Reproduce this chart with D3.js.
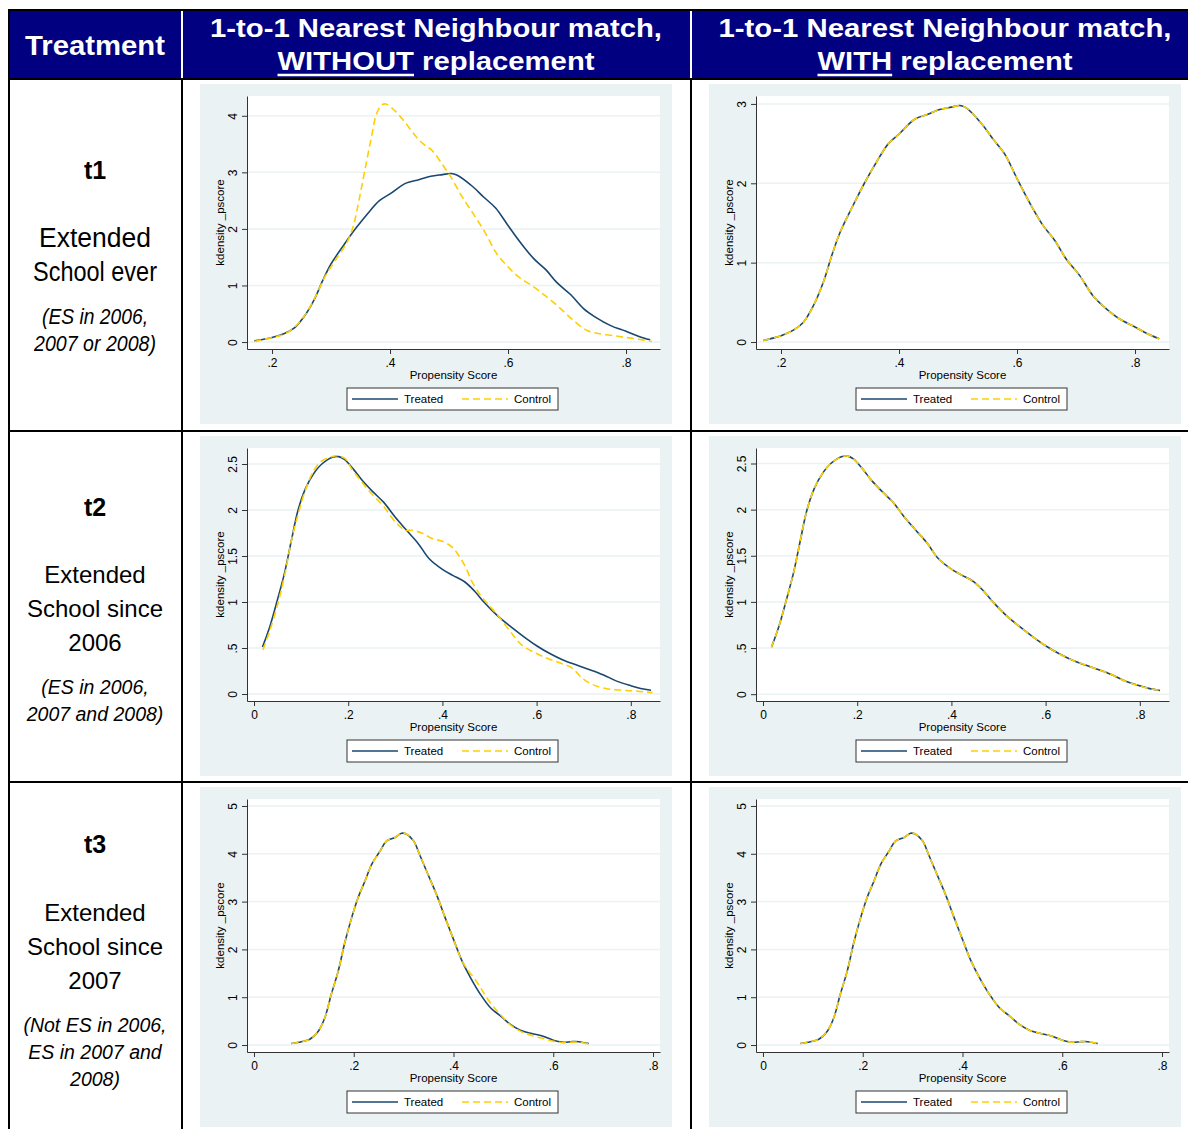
<!DOCTYPE html>
<html>
<head>
<meta charset="utf-8">
<script src="https://cdn.jsdelivr.net/npm/d3@7"></script>
<style>
body { margin: 0; background: #fff; }
svg { display: block; font-family: "Liberation Sans", Arial, sans-serif; }
</style>
</head>
<body>
<svg id="chart" width="1188" height="1129"></svg>
<script>
// ---- data ----
var headerTitles = ["1-to-1 Nearest Neighbour match,", "1-to-1 Nearest Neighbour match,"];
var headerMarked = ["WITHOUT", "WITH"];
var treatmentCodes = ["t1", "t2", "t3"];
var treatmentNames = [["Extended", "School ever"], ["Extended", "School since", "2006"], ["Extended", "School since", "2007"]];
var treatmentNotes = [["(ES in 2006,", "2007 or 2008)"], ["(ES in 2006,", "2007 and 2008)"], ["(Not ES in 2006,", "ES in 2007 and", "2008)"]];
var seriesNames = ["Treated", "Control"];

var xTicks = [[0.2, 0.4, 0.6, 0.8], [0, 0.2, 0.4, 0.6, 0.8], [0, 0.2, 0.4, 0.6, 0.8]];
var yTicksWithout = [[0, 1, 2, 3, 4], [0, 0.5, 1, 1.5, 2, 2.5], [0, 1, 2, 3, 4, 5]];
var yTicksWith = [[0, 1, 2, 3], [0, 0.5, 1, 1.5, 2, 2.5], [0, 1, 2, 3, 4, 5]];
var xDomains = [[0.1576, 0.8576], [-0.0149, 0.862], [-0.014, 0.814]];
var yDomainsWithout = [[-0.123, 4.35], [-0.076, 2.674], [-0.146, 5.146]];
var yDomainsWith = [[-0.088, 3.10], [-0.074, 2.668], [-0.146, 5.146]];

var t1Treated = [[0.170,0.02],[0.2,0.08],[0.221,0.15],[0.238,0.25],[0.255,0.46],[0.272,0.76],[0.286,1.09],[0.300,1.38],[0.322,1.72],[0.342,2.01],[0.362,2.27],[0.382,2.50],[0.4,2.62],[0.427,2.81],[0.449,2.87],[0.469,2.93],[0.489,2.96],[0.503,2.98],[0.514,2.95],[0.540,2.75],[0.559,2.56],[0.579,2.37],[0.6,2.06],[0.621,1.76],[0.644,1.47],[0.664,1.28],[0.683,1.05],[0.706,0.84],[0.728,0.59],[0.748,0.44],[0.774,0.29],[0.8,0.19],[0.822,0.10],[0.841,0.04]];
var t1ControlWithout = [[0.170,0.01],[0.2,0.08],[0.221,0.14],[0.239,0.27],[0.256,0.48],[0.273,0.79],[0.29,1.16],[0.307,1.44],[0.327,1.76],[0.338,2.06],[0.349,2.59],[0.36,3.18],[0.369,3.65],[0.377,4.03],[0.386,4.19],[0.393,4.21],[0.408,4.09],[0.425,3.89],[0.445,3.62],[0.459,3.48],[0.471,3.39],[0.49,3.12],[0.503,2.92],[0.521,2.59],[0.541,2.27],[0.561,1.94],[0.581,1.56],[0.6,1.33],[0.618,1.15],[0.64,1.0],[0.663,0.82],[0.686,0.62],[0.708,0.41],[0.733,0.21],[0.753,0.15],[0.781,0.11],[0.8,0.08],[0.821,0.05],[0.844,0.01]];
var t1ControlWith = t1Treated;

var t2Treated = [[0.018,0.51],[0.034,0.74],[0.05,1.03],[0.065,1.32],[0.079,1.66],[0.093,1.99],[0.109,2.23],[0.126,2.39],[0.144,2.50],[0.168,2.575],[0.18,2.58],[0.192,2.55],[0.21,2.45],[0.23,2.32],[0.252,2.2],[0.276,2.08],[0.3,1.92],[0.322,1.79],[0.348,1.64],[0.372,1.47],[0.4,1.355],[0.422,1.29],[0.447,1.22],[0.468,1.12],[0.488,1.0],[0.515,0.86],[0.543,0.74],[0.571,0.63],[0.6,0.525],[0.628,0.44],[0.656,0.37],[0.685,0.315],[0.713,0.265],[0.741,0.21],[0.77,0.14],[0.8,0.09],[0.821,0.06],[0.843,0.04]];
var t2ControlWithout = [[0.019,0.48],[0.033,0.68],[0.051,0.99],[0.065,1.29],[0.079,1.66],[0.094,1.96],[0.108,2.2],[0.126,2.42],[0.143,2.53],[0.165,2.58],[0.175,2.59],[0.193,2.56],[0.207,2.45],[0.228,2.31],[0.249,2.18],[0.275,2.04],[0.3,1.87],[0.321,1.78],[0.335,1.78],[0.356,1.75],[0.378,1.69],[0.4,1.66],[0.42,1.60],[0.434,1.51],[0.449,1.38],[0.463,1.22],[0.48,1.08],[0.498,0.97],[0.52,0.84],[0.544,0.68],[0.569,0.53],[0.6,0.44],[0.626,0.38],[0.654,0.33],[0.676,0.28],[0.697,0.17],[0.718,0.105],[0.747,0.06],[0.775,0.043],[0.8,0.036],[0.825,0.025],[0.846,0.015]];
var t2ControlWith = t2Treated;

var t3Treated = [[0.075,0.03],[0.095,0.07],[0.112,0.12],[0.129,0.29],[0.142,0.57],[0.155,1.06],[0.169,1.55],[0.182,2.14],[0.196,2.67],[0.209,3.09],[0.223,3.44],[0.236,3.78],[0.253,4.06],[0.266,4.27],[0.283,4.34],[0.296,4.43],[0.306,4.41],[0.32,4.27],[0.333,3.96],[0.35,3.54],[0.367,3.12],[0.383,2.67],[0.4,2.21],[0.417,1.76],[0.434,1.41],[0.454,1.06],[0.474,0.78],[0.494,0.61],[0.514,0.43],[0.534,0.31],[0.557,0.24],[0.578,0.19],[0.6,0.10],[0.618,0.06],[0.638,0.07],[0.651,0.07],[0.671,0.03]];
var t3ControlWithout = [[0.075,0.03],[0.095,0.07],[0.112,0.12],[0.129,0.29],[0.142,0.57],[0.155,1.06],[0.169,1.55],[0.182,2.14],[0.196,2.67],[0.209,3.09],[0.223,3.44],[0.236,3.78],[0.253,4.06],[0.266,4.27],[0.283,4.34],[0.296,4.43],[0.306,4.41],[0.32,4.27],[0.333,3.96],[0.35,3.54],[0.367,3.12],[0.383,2.67],[0.4,2.21],[0.417,1.76],[0.43,1.55],[0.44,1.42],[0.453,1.22],[0.466,1.0],[0.48,0.8],[0.494,0.64],[0.514,0.42],[0.534,0.29],[0.557,0.2],[0.578,0.14],[0.6,0.08],[0.618,0.05],[0.638,0.06],[0.651,0.06],[0.671,0.02]];
var t3ControlWith = t3Treated;

var treatedData = [t1Treated, t2Treated, t3Treated];
var controlWithout = [t1ControlWithout, t2ControlWithout, t3ControlWithout];
var controlWith = [t1ControlWith, t2ControlWith, t3ControlWith];

// ---- layout ----
var svg = d3.select("#chart");
var rowLines = [79, 431, 782];
var colLines = [182, 691];
var navy = "#000080";
var treatedColor = "#1a476f";
var controlColor = "#ffcf00";
var panelBg = "#eaf2f3";

svg.append("rect").attr("width", 1188).attr("height", 1129).attr("fill", "#fff");

// header band
svg.append("rect").attr("x", 9).attr("y", 10).attr("width", 1190).attr("height", 69).attr("fill", navy);

function fitText(sel, w) {
  sel.attr("textLength", w).attr("lengthAdjust", "spacingAndGlyphs");
}

var hdr = svg.append("text").attr("x", 95).attr("y", 55).attr("text-anchor", "middle")
  .attr("fill", "#fff").attr("font-weight", "bold").attr("font-size", 27).text("Treatment");
fitText(hdr, 140);

var headerCenters = [436, 945];
var line1Widths = [452, 453];
var line2Widths = [317, 255];
headerTitles.forEach(function(t, i) {
  var l1 = svg.append("text").attr("x", headerCenters[i]).attr("y", 37).attr("text-anchor", "middle")
    .attr("fill", "#fff").attr("font-weight", "bold").attr("font-size", 26).text(t);
  fitText(l1, line1Widths[i]);
  var l2 = svg.append("text").attr("x", headerCenters[i]).attr("y", 70).attr("text-anchor", "middle")
    .attr("fill", "#fff").attr("font-weight", "bold").attr("font-size", 26)
    .text(headerMarked[i] + " replacement");
  fitText(l2, line2Widths[i]);
  var n = l2.node();
  var x0 = n.getStartPositionOfChar(0).x;
  var x1 = n.getEndPositionOfChar(headerMarked[i].length - 1).x;
  svg.append("line").attr("x1", x0).attr("x2", x1).attr("y1", 75).attr("y2", 75)
    .attr("stroke", "#fff").attr("stroke-width", 2.5);
});

// table rules
var rules = svg.append("g").attr("stroke", "#000").attr("stroke-width", 2);
rules.append("line").attr("x1", 8).attr("x2", 1188).attr("y1", 10).attr("y2", 10);
rules.selectAll("line.row").data(rowLines).join("line").attr("class", "row")
  .attr("x1", 8).attr("x2", 1188).attr("y1", function(d) { return d; }).attr("y2", function(d) { return d; });
rules.append("line").attr("x1", 9).attr("x2", 9).attr("y1", 10).attr("y2", 1129);
rules.selectAll("line.col").data(colLines).join("line").attr("class", "col")
  .attr("x1", function(d) { return d; }).attr("x2", function(d) { return d; })
  .attr("y1", 79).attr("y2", 1129);
svg.selectAll("line.hcol").data(colLines).join("line").attr("class", "hcol")
  .attr("x1", function(d) { return d; }).attr("x2", function(d) { return d; })
  .attr("y1", 11).attr("y2", 78).attr("stroke", "#fff").attr("stroke-width", 2);

// row labels
var codeBase = [179, 516, 853];
var nameBase = [[247, 281], [583, 617, 651], [921, 955, 989]];
var noteBase = [[324, 351], [694, 721], [1032, 1059, 1086]];
var row1NameW = [112, 124];
var row1NoteW = [106, 122];
treatmentCodes.forEach(function(c, r) {
  svg.append("text").attr("x", 95).attr("y", codeBase[r]).attr("text-anchor", "middle")
    .attr("font-weight", "bold").attr("font-size", 25).text(c);
  treatmentNames[r].forEach(function(s, k) {
    var t = svg.append("text").attr("x", 95).attr("y", nameBase[r][k]).attr("text-anchor", "middle")
      .attr("font-size", r === 0 ? 27 : 24).text(s);
    if (r === 0) fitText(t, row1NameW[k]);
  });
  treatmentNotes[r].forEach(function(s, k) {
    var t = svg.append("text").attr("x", 95).attr("y", noteBase[r][k]).attr("text-anchor", "middle")
      .attr("font-style", "italic").attr("font-size", r === 0 ? 22 : 19.5).text(s);
    if (r === 0) fitText(t, row1NoteW[k]);
  });
});

// ---- the six density plots ----
var fmt = function(d) { return d === 0 ? "0" : d3.format("~g")(d).replace(/^0\./, "."); };

function drawPlot(r, c) {
  var rowTop = rowLines[r], colLeft = colLines[c];
  var g = svg.append("g");
  g.append("rect").attr("x", colLeft + 18).attr("y", rowTop + 5).attr("width", 472).attr("height", 340)
    .attr("fill", panelBg);

  var left = colLeft + 65, top = rowTop + 17, w = 413, h = 253;
  var x = d3.scaleLinear().domain(xDomains[r]).range([left, left + w]);
  var y = d3.scaleLinear().domain(c === 0 ? yDomainsWithout[r] : yDomainsWith[r]).range([top + h, top]);
  var yt = c === 0 ? yTicksWithout[r] : yTicksWith[r];

  g.append("rect").attr("x", left).attr("y", top).attr("width", w).attr("height", h).attr("fill", "#fff");
  g.selectAll("line.grid").data(yt).join("line").attr("class", "grid")
    .attr("x1", left).attr("x2", left + w)
    .attr("y1", function(d) { return y(d); }).attr("y2", function(d) { return y(d); })
    .attr("stroke", panelBg).attr("stroke-width", 1.5);

  var line = d3.line().x(function(d) { return x(d[0]); }).y(function(d) { return y(d[1]); })
    .curve(d3.curveCatmullRom.alpha(0.5));
  g.append("path").datum(treatedData[r]).attr("d", line).attr("fill", "none")
    .attr("stroke", treatedColor).attr("stroke-width", 1.6);
  g.append("path").datum(c === 0 ? controlWithout[r] : controlWith[r]).attr("d", line).attr("fill", "none")
    .attr("stroke", controlColor).attr("stroke-width", 1.6).attr("stroke-dasharray", "7,4");

  var ya = g.append("g").attr("transform", "translate(" + left + ",0)")
    .call(d3.axisLeft(y).tickValues(yt).tickSize(5).tickSizeOuter(0).tickFormat(fmt));
  ya.selectAll("text").attr("x", null).attr("dy", null).attr("text-anchor", "middle")
    .attr("transform", "translate(-10,0) rotate(-90)");

  var xa = g.append("g").attr("transform", "translate(0," + (top + h) + ")")
    .call(d3.axisBottom(x).tickValues(xTicks[r]).tickSize(5).tickSizeOuter(0).tickFormat(fmt));
  xa.selectAll("text").attr("y", 9);

  [ya, xa].forEach(function(a) {
    a.attr("font-family", null).attr("font-size", 12);
    a.selectAll("path, line").attr("stroke", "#333");
    a.selectAll("text").attr("fill", "#000");
  });

  g.append("text").attr("x", left + w / 2).attr("y", top + h + 30).attr("text-anchor", "middle")
    .attr("font-size", 11.5).text("Propensity Score");
  g.append("text").attr("transform", "translate(" + (left - 23) + "," + (top + h / 2) + ") rotate(-90)")
    .attr("text-anchor", "middle").attr("font-size", 11.5).text("kdensity _pscore");

  // legend
  var lg = g.append("g").attr("transform", "translate(" + (left + 100) + "," + (top + h + 39) + ")");
  lg.append("rect").attr("width", 211).attr("height", 22).attr("fill", "#fff")
    .attr("stroke", "#333").attr("stroke-width", 1);
  var items = lg.selectAll("g.item").data(seriesNames).join("g").attr("class", "item")
    .attr("transform", function(d, i) { return "translate(" + (5 + i * 110) + ",11)"; });
  items.append("line").attr("x1", 0).attr("x2", 46).attr("y1", 0).attr("y2", 0)
    .attr("stroke", function(d, i) { return i === 0 ? treatedColor : controlColor; })
    .attr("stroke-width", 1.6)
    .attr("stroke-dasharray", function(d, i) { return i === 0 ? null : "7,4"; });
  items.append("text").attr("x", 52).attr("y", 4).attr("font-size", 11.5).text(function(d) { return d; });
}

[0, 1, 2].forEach(function(r) { [0, 1].forEach(function(c) { drawPlot(r, c); }); });
</script>
</body>
</html>
